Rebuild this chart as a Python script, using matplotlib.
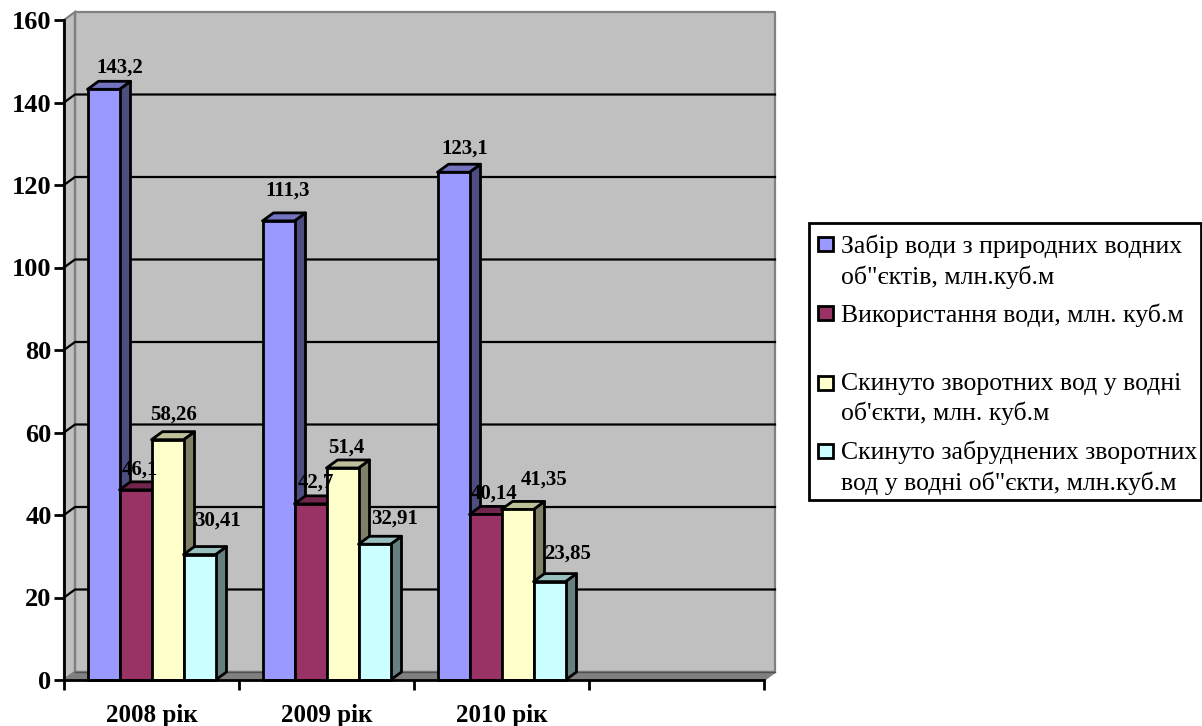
import matplotlib
matplotlib.use("Agg")
import matplotlib.pyplot as plt
from matplotlib.colors import to_rgb
from matplotlib.patches import Polygon, Rectangle

plt.rcParams['font.family'] = ['Liberation Serif', 'DejaVu Serif']

# data
years = ['2008 рік', '2009 рік', '2010 рік', '']
intake = [143.2, 111.3, 123.1]
used = [46.1, 42.7, 40.14]
returned = [58.26, 51.4, 41.35]
polluted = [30.41, 32.91, 23.85]
intake_labels = ['143,2', '111,3', '123,1']
used_labels = ['46,1', '42,7', '40,14']
returned_labels = ['58,26', '51,4', '41,35']
polluted_labels = ['30,41', '32,91', '23,85']
series_names = ['Забір води з природних водних\nоб"єктів, млн.куб.м',
                'Використання води, млн. куб.м',
                "Скинуто зворотних вод у водні\nоб'єкти, млн. куб.м",
                'Скинуто забруднених зворотних\nвод у водні об"єкти, млн.куб.м']
colors = ['#9999FF', '#993366', '#FFFFCC', '#CCFFFF']

W, H = 1202, 726
LW = 1.6
BAR_LW = 2.0

fig = plt.figure(figsize=(W / 100, H / 100), dpi=100)
ax = fig.add_axes([64 / W, 1 - 680 / H, 700 / W, 660 / H])
ax.set_xlim(0, 4)
ax.set_ylim(0, 160)

# depth of the fake 3d, in data units
dx = 11 / 175
dy = 8 / 4.125
bar_w = 32 / 175
gap = 23.5 / 175

ax.patch.set_visible(False)
wall = Polygon([(dx, dy), (4 + dx, dy), (4 + dx, 160 + dy), (dx, 160 + dy)],
               fc='#C0C0C0', ec='none', clip_on=False, zorder=0)
side = Polygon([(0, 0), (dx, dy), (dx, 160 + dy), (0, 160)],
               fc='#C0C0C0', ec='#808080', lw=LW, clip_on=False, zorder=0)
floor = Polygon([(0, 0), (dx, dy), (4 + dx, dy), (4, 0)],
                fc='#808080', ec='#808080', lw=LW, clip_on=False, zorder=0)
ax.add_patch(wall)
ax.add_patch(side)
ax.add_patch(floor)
ax.plot([dx, 4 + dx, 4 + dx, dx, dx], [dy, dy, 160 + dy, 160 + dy, dy],
        color='#808080', lw=LW, clip_on=False, zorder=1)
ax.plot([dx, 4 + dx], [dy, dy], color='#505050', lw=1, clip_on=False, zorder=1)

for v in range(20, 160, 20):
    ax.plot([0, dx, 4 + dx], [v, v + dy, v + dy], color='black', lw=LW,
            clip_on=False, zorder=2)

# label offsets from the top centre of each bar, pixels
nudges = [
    [(16, 22), (9, 30), (11, 24)],
    [(4, 20), (5, 21), (9, 21)],
    [(6, 25), (4, 20), (27, 30)],
    [(18, 34), (20, 26), (18, 28)],
]

all_values = [intake, used, returned, polluted]
all_labels = [intake_labels, used_labels, returned_labels, polluted_labels]

z = 3
for cat in range(3):
    for s, values in enumerate(all_values):
        v = values[cat]
        x0 = cat + gap + s * bar_w
        x1 = x0 + bar_w
        rgb = to_rgb(colors[s])
        top_c = tuple(c * 0.75 for c in rgb)
        side_c = tuple(c * 0.5 for c in rgb)
        ax.add_patch(Polygon([(x1, 0), (x1 + dx, dy), (x1 + dx, v + dy), (x1, v)],
                             fc=side_c, ec='black', lw=BAR_LW, clip_on=False, zorder=z,
                             joinstyle='round'))
        ax.add_patch(Polygon([(x0, v), (x0 + dx, v + dy), (x1 + dx, v + dy), (x1, v)],
                             fc=top_c, ec='black', lw=BAR_LW, clip_on=False, zorder=z,
                             joinstyle='round'))
        ax.bar(x0, v, width=bar_w, align='edge', color=colors[s], edgecolor='black',
               linewidth=BAR_LW, clip_on=False, zorder=z)
        z += 1

for s, values in enumerate(all_values):
    for cat in range(3):
        xc = cat + gap + (s + 0.5) * bar_w
        ax.annotate(all_labels[s][cat], (xc, values[cat]),
                    xytext=nudges[s][cat], textcoords='offset pixels',
                    ha='center', va='center', fontsize=15, fontweight='bold',
                    annotation_clip=False, zorder=50)

for name in ['top', 'right']:
    ax.spines[name].set_visible(False)
for name in ['left', 'bottom']:
    ax.spines[name].set_linewidth(BAR_LW)
    ax.spines[name].set_zorder(40)

ax.set_yticks(range(0, 161, 20))
ax.set_xticks(range(5))
ax.set_xticklabels([])
ax.set_xticks([0.5, 1.5, 2.5, 3.5], labels=years, minor=True)
ax.tick_params(axis='y', length=7, width=BAR_LW, labelsize=19, pad=2)
ax.tick_params(axis='x', which='major', length=7, width=BAR_LW)
ax.tick_params(axis='x', which='minor', length=0, labelsize=18, pad=17)
for lab in ax.get_yticklabels() + ax.get_xticklabels(minor=True):
    lab.set_fontweight('bold')

# legend box drawn by hand, Excel spaces the entries unevenly
fig.add_artist(Rectangle((809 / W, 1 - 500 / H), 392 / W, 277 / H, transform=fig.transFigure,
                         fc='white', ec='black', lw=BAR_LW))
swatch_y = [244, 313, 383, 451]
text_y = [262, 315, 399, 468]
for name, c, sy, ty in zip(series_names, colors, swatch_y, text_y):
    fig.add_artist(Rectangle((818 / W, 1 - (sy + 7) / H), 15 / W, 14 / H, transform=fig.transFigure,
                             fc=c, ec='black', lw=BAR_LW))
    fig.text(841 / W, 1 - ty / H, name, ha='left', va='center', fontsize=18.5, linespacing=1.38)

fig.savefig('out.png', dpi=100)
